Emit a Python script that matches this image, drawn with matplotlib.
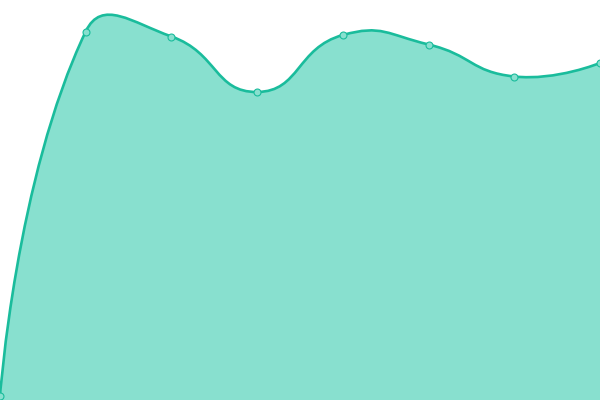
import matplotlib
matplotlib.use("Agg")
import matplotlib.pyplot as plt
from matplotlib.path import Path
from matplotlib.patches import PathPatch
import numpy as np

# values (y axis 0..400)
categories = ["A", "B", "C", "D", "E", "F", "G", "H"]
values = [4, 368.5, 363.5, 308, 365, 355.5, 323.5, 337]

line_color = "#1abc9c"
fill_color = "#88e0cf"
smooth = 0.5

fig = plt.figure(figsize=(6, 4), dpi=100)
ax = fig.add_axes([0, 0, 1, 1])
ax.set_xlim(0, len(categories) - 1)
ax.set_ylim(0, 400)
ax.axis("off")

x = np.arange(len(categories))
# work in pixel space so the smoothing behaves like the original renderer
pts = ax.transData.transform(np.column_stack([x, values]))
n = len(pts)
cp_in = pts.copy()
cp_out = pts.copy()
for i in range(1, n - 1):
    v = pts[i + 1] - pts[i - 1]
    d0 = np.hypot(*(pts[i] - pts[i - 1]))
    d1 = np.hypot(*(pts[i + 1] - pts[i]))
    r = d1 / (d0 + d1)
    cp_in[i] = pts[i] - v * smooth * (1 - r)
    cp_out[i] = pts[i] + v * smooth * r

verts = [pts[0]]
codes = [Path.MOVETO]
for i in range(n - 1):
    verts += [cp_out[i], cp_in[i + 1], pts[i + 1]]
    codes += [Path.CURVE4] * 3
inv = ax.transData.inverted()
curve = inv.transform(np.array(verts))

# filled area down to the baseline
area_verts = list(curve) + [(x[-1], 0), (x[0], 0), tuple(curve[0])]
area_codes = codes + [Path.LINETO, Path.LINETO, Path.CLOSEPOLY]
ax.add_patch(PathPatch(Path(area_verts, area_codes), facecolor=fill_color,
                       edgecolor="none", zorder=1))
ax.add_patch(PathPatch(Path(curve, codes), facecolor="none",
                       edgecolor=line_color, linewidth=1.9, zorder=2,
                       capstyle="round", joinstyle="round"))

ax.plot(x, values, linestyle="none", marker="o", markersize=5,
        markerfacecolor=fill_color, markeredgecolor=line_color,
        markeredgewidth=0.8, zorder=3, clip_on=False)

fig.savefig("out.png", dpi=100)
